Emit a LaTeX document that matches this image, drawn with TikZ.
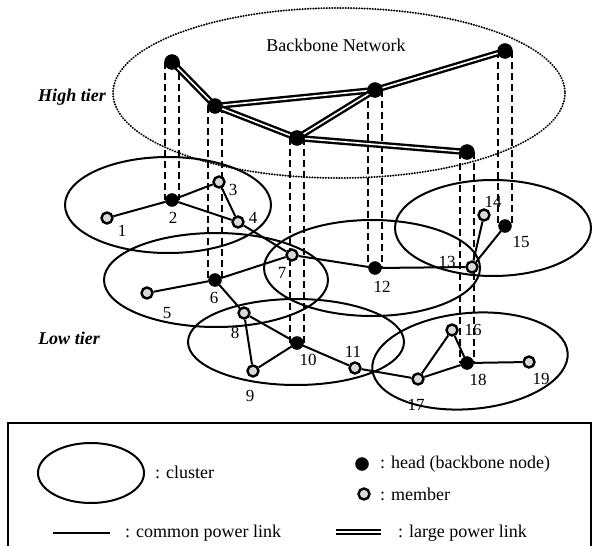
\documentclass[tikz,border=0pt]{standalone}
\usepackage{fontspec}
\setmainfont{Liberation Serif}
\usetikzlibrary{backgrounds}
\begin{document}
\begin{tikzpicture}[x=1pt,y=-1pt,
  cluster/.style={line width=2pt},
  bbarea/.style={line width=2pt, line cap=round, dash pattern=on 0.3pt off 2.4pt},
  head/.style={circle, fill=black, draw=black, inner sep=0pt, minimum size=13pt},
  bhead/.style={circle, fill=black, draw=black, inner sep=0pt, minimum size=15pt},
  member/.style={circle, fill=gray!30, draw=black, line width=2.4pt, inner sep=0pt, minimum size=11pt},
  clink/.style={line width=2pt},
  blink/.style={line width=2.4pt, double=white, double distance=1.6pt},
  vlink/.style={line width=2.3pt, dash pattern=on 7pt off 4pt},
  lbl/.style={font=\fontsize{17}{17}\selectfont, inner sep=0pt},
  txt/.style={font=\fontsize{18}{18}\selectfont, inner sep=0pt},
  tier/.style={font=\fontsize{18}{18}\selectfont\bfseries\itshape, inner sep=0pt}]
\useasboundingbox (0,0) rectangle (595,546);
\clip (0,0) rectangle (595,546);

\node[txt] (bbtitle) at (336,45) {Backbone Network};
\node[tier] (hightier) at (72,97) {High tier};
\node[tier] (lowtier) at (69,338) {Low tier};

% backbone heads
\node[bhead] (b1) at (172,62) {};
\node[bhead] (b2) at (215,106) {};
\node[bhead] (b3) at (297,138) {};
\node[bhead] (b4) at (375,90) {};
\node[bhead] (b5) at (505,51) {};
\node[bhead] (b6) at (467,152) {};

% cluster heads and members
\node[member] (n1) at (107,218) {};
\node[head]   (n2) at (172,200) {};
\node[member] (n3) at (219,182) {};
\node[member] (n4) at (238,222) {};
\node[member] (n5) at (147,293) {};
\node[head]   (n6) at (215,280) {};
\node[member] (n7) at (292,255) {};
\node[member] (n8) at (244,313) {};
\node[member] (n9) at (253,371) {};
\node[head]   (n10) at (297,343) {};
\node[member] (n11) at (355,368) {};
\node[head]   (n12) at (375,268) {};
\node[member] (n13) at (472,267) {};
\node[member] (n14) at (484,215) {};
\node[head]   (n15) at (505,226) {};
\node[member] (n16) at (452,330) {};
\node[member] (n17) at (418,379) {};
\node[head]   (n18) at (467,363) {};
\node[member] (n19) at (529,362) {};

\begin{pgfonlayer}{background}
% backbone area
\draw[bbarea] (339,93) ellipse [x radius=226, y radius=85];

% clusters
\draw[cluster] (168,205) ellipse [x radius=103, y radius=48];
\draw[cluster] (216,280) ellipse [x radius=112, y radius=47];
\draw[cluster] (372,268) ellipse [x radius=108, y radius=48];
\draw[cluster] (296,342) ellipse [x radius=108, y radius=43];
\draw[cluster] (493,228) ellipse [x radius=98, y radius=48];
\draw[cluster, rotate around={5:(470,361)}] (470,361) ellipse [x radius=98, y radius=48];

% vertical ties between the tiers
\foreach \u/\l in {b1/n2, b2/n6, b3/n10, b4/n12, b5/n15, b6/n18}{
  \draw[vlink] ([xshift=-7pt]\u.center) -- ([xshift=-7pt]\l.center);
  \draw[vlink] ([xshift=7pt]\u.center) -- ([xshift=7pt]\l.center);
}

% large power links
\draw[blink] (b1.center) -- (b2.center);
\draw[blink] (b2.center) -- (b4.center);
\draw[blink] (b2.center) -- (b3.center);
\draw[blink] (b3.center) -- (b4.center);
\draw[blink] (b4.center) -- (b5.center);
\draw[blink] (b3.center) -- (b6.center);

% common power links
\foreach \a/\b in {n1/n2, n2/n3, n2/n4, n3/n4, n4/n7, n5/n6, n6/n7, n6/n8,
  n8/n9, n8/n10, n9/n10, n10/n11, n11/n17, n7/n12, n12/n13, n13/n14,
  n13/n15, n17/n16, n16/n18, n17/n18, n18/n19}{
  \draw[clink] (\a) -- (\b);
}
\end{pgfonlayer}

% node numbers
\node[lbl] (l1) at (122,231) {1};
\node[lbl] (l2) at (173,218) {2};
\node[lbl] (l3) at (233,190) {3};
\node[lbl] (l4) at (253,218) {4};
\node[lbl] (l5) at (167,313) {5};
\node[lbl] (l6) at (214,298) {6};
\node[lbl] (l7) at (282,273) {7};
\node[lbl] (l8) at (235,333) {8};
\node[lbl] (l9) at (250,396) {9};
\node[lbl] (l10) at (308,360) {10};
\node[lbl] (l11) at (353,352) {11};
\node[lbl] (l12) at (382,287) {12};
\node[lbl] (l13) at (447,262) {13};
\node[lbl] (l14) at (493,202) {14};
\node[lbl] (l15) at (521,242) {15};
\node[lbl] (l16) at (473,330) {16};
\node[lbl] (l17) at (416,405) {17};
\node[lbl] (l18) at (478,380) {18};
\node[lbl] (l19) at (541,379) {19};

% legend
\draw[line width=1.8pt] (8,423) rectangle (591,552);
\draw[cluster] (91,473) ellipse [x radius=53, y radius=30];
\node[txt, anchor=west] (lgcluster) at (155,472) {: cluster};
\node[head] (lghead) at (362,464) {};
\node[txt, anchor=west] (lgheadt) at (380,464) {: head (backbone node)};
\node[member] (lgmember) at (364,494) {};
\node[txt, anchor=west] (lgmembert) at (380,494) {: member};
\coordinate (cl1) at (53,533);
\coordinate (cl2) at (110,533);
\draw[clink] (cl1) -- (cl2);
\node[txt, anchor=west] (lgcommon) at (125,533) {: common power link};
\coordinate (bl1) at (336,532);
\coordinate (bl2) at (381,532);
\draw[blink] (bl1) -- (bl2);
\node[txt, anchor=west] (lglarge) at (398,533) {: large power link};
\end{tikzpicture}
\end{document}
